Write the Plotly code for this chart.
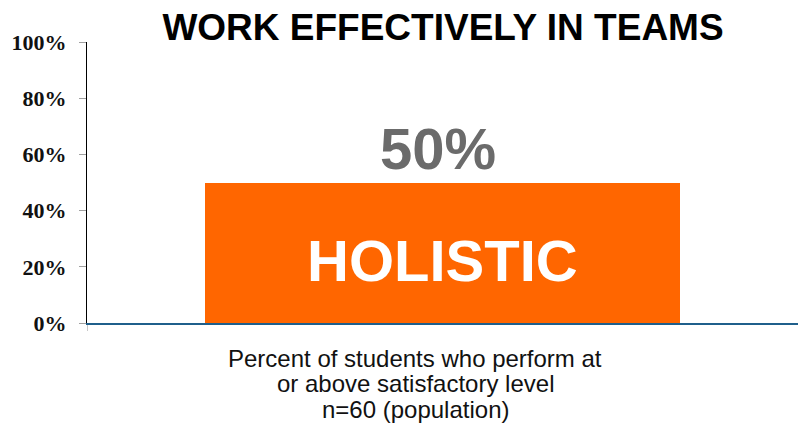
import plotly.graph_objects as go

categories = ["Holistic"]
values = [50]
value_labels = ["50%"]
bar_labels = ["HOLISTIC"]
y_tick_vals = [0, 20, 40, 60, 80, 100]
y_tick_text = ["0%", "20%", "40%", "60%", "80%", "100%"]
x_label_lines = ["Percent of students who perform at", "or above satisfactory level", "n=60 (population)"]
title_text = "WORK EFFECTIVELY IN TEAMS"

W, H = 798, 423
ML, MR, MT, MB = 87, 0, 42, 100

fig = go.Figure()
fig.add_trace(go.Bar(
    x=[0], y=values, width=0.668,
    marker=dict(color="#FF6600", line=dict(width=0)),
    hoverinfo="skip", showlegend=False,
))

# value label above bar
fig.add_annotation(x=0, y=values[0], xref="x", yref="y", text=value_labels[0],
                   showarrow=False, yanchor="bottom", yshift=0, xshift=-5,
                   font=dict(family="Liberation Sans, Arial", size=58, color="#6B6B6B", weight="bold"))
# label inside bar
fig.add_annotation(x=0, y=values[0] / 2, xref="x", yref="y", text=bar_labels[0],
                   showarrow=False, yanchor="middle", yshift=-8,
                   font=dict(family="Liberation Sans, Arial", size=58, color="#FFFFFF", weight="bold"))

# x label lines
for i, line in enumerate(x_label_lines):
    fig.add_annotation(x=(415 - ML) / (W - ML - MR), y=0, xref="paper", yref="paper",
                       text=line, showarrow=False, xanchor="center", yanchor="middle",
                       yshift=-(35 + 25.5 * i),
                       font=dict(family="Liberation Sans, Arial", size=24, color="#111111"))

fig.update_layout(
    width=W, height=H,
    margin=dict(l=ML, r=MR, t=MT, b=MB, pad=0),
    paper_bgcolor="white", plot_bgcolor="white",
    title=dict(text=title_text, x=(443) / W, xanchor="center", y=1 - 27 / H, yanchor="middle",
               font=dict(family="Liberation Sans, Arial", size=37, color="#000000", weight="bold")),
    xaxis=dict(range=[-0.5, 0.5], showgrid=False, zeroline=False,
               showline=True, linecolor="#1F5F8B", linewidth=2,
               tickmode="array", tickvals=[-0.5], ticktext=[""],
               ticks="outside", ticklen=6, tickcolor="#C8C8C8", tickwidth=1),
    yaxis=dict(range=[0, 100], showgrid=False, zeroline=False,
               showline=True, linecolor="#000000", linewidth=1,
               tickmode="array", tickvals=y_tick_vals, ticktext=y_tick_text,
               ticks="outside", ticklen=7, tickcolor="#A0A0A0", tickwidth=1,
               ticklabelstandoff=8,
               tickfont=dict(family="Liberation Serif, Times New Roman", size=22, color="#111111", weight="bold")),
    bargap=0,
)

fig.write_html("out.html")
